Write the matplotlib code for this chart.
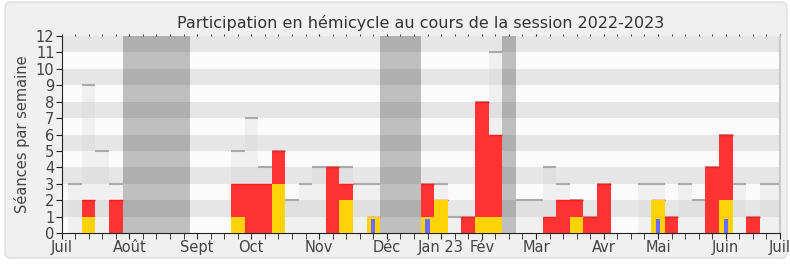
import numpy as np
import matplotlib.pyplot as plt
from matplotlib.patches import FancyBboxPatch

# weeks 0..52 (week 0 = week of 4 July 2022)
weeks = np.arange(53)
seances = [3, 9, 5, 3, 0, 0, 0, 0, 0, 0, 0, 0, 5, 7, 4, 5, 2, 3, 4, 4,
           4, 3, 3, 0, 0, 0, 3, 3, 1, 1, 8, 11, 0, 2, 2, 4, 3, 2, 1, 3,
           0, 0, 3, 3, 1, 3, 2, 4, 6, 3, 1, 3, 3]
presences = [0, 2, 0, 2, 0, 0, 0, 0, 0, 0, 0, 0, 3, 3, 3, 5, 0, 0, 0, 4,
             3, 0, 1, 0, 0, 0, 3, 2, 0, 1, 8, 6, 0, 0, 0, 1, 2, 2, 1, 3,
             0, 0, 0, 2, 1, 0, 0, 4, 6, 0, 1, 0, 0]
interventions = [0, 1, 0, 0, 0, 0, 0, 0, 0, 0, 0, 0, 1, 0, 0, 3, 0, 0, 0, 0,
                 2, 0, 1, 0, 0, 0, 1, 2, 0, 0, 1, 1, 0, 0, 0, 0, 0, 1, 0, 0,
                 0, 0, 0, 2, 0, 0, 0, 0, 2, 0, 0, 0, 0]
questions = [0] * 53
for w in (22, 26, 43, 48):
    questions[w] = 1
vacances = [(4, 8), (23, 25), (32, 32)]
mois_pos = [-1, 4, 9, 13, 18, 23, 27, 30, 34, 39, 43, 48, 52]
mois_lab = ['Juil', 'Août', 'Sept', 'Oct', 'Nov', 'Déc', 'Jan 23', 'Fév',
            'Mar', 'Avr', 'Mai', 'Juin', 'Juil']

fig = plt.figure(figsize=(7.9, 2.67), dpi=100, facecolor='white')
fig.patches.append(FancyBboxPatch((0.05, 0.09), 7.82, 2.56,
                                  boxstyle='round,pad=0,rounding_size=0.06',
                                  transform=fig.dpi_scale_trans,
                                  facecolor='#f0f0f0', edgecolor='#dcdcdc',
                                  lw=1, zorder=-10))
ax = fig.add_axes([61.5/790, 1-233/267, (780-61.5)/790, (233-36)/267])

# background stripes
for i in range(12):
    ax.axhspan(i, i+1, color='#e6e6e6' if i % 2 else '#fbfbfb', lw=0, zorder=0)

# total sessions per week
ax.bar(weeks, seances, width=1, color=(0.8, 0.8, 0.8, 0.22), lw=0, zorder=1)
for w, s in zip(weeks, seances):
    if s > 0:
        ax.hlines(s, w-0.5, w+0.5, color='#aaaaaa', lw=1.5, zorder=1.5)

# holidays
for a, b in vacances:
    ax.axvspan(a-0.5, b+0.5, color='black', alpha=0.24, lw=0, zorder=2)

ax.bar(weeks, presences, width=1, color='#ff3333', lw=0, zorder=3)
for w, p in zip(weeks, presences):
    if p > 0:
        ax.hlines(p, w-0.5, w+0.5, color='#ff1a1a', lw=1, zorder=3.5)
ax.bar(weeks, interventions, width=1, color='#ffd20a', lw=0, zorder=4)
ax.bar(weeks, np.array(questions)*0.85, width=0.3, color='#6b6bff', lw=0, zorder=5)

ax.set_xlim(-1, 52)
ax.set_ylim(0, 12)
ax.set_yticks(range(13))
ax.set_xticks(mois_pos)
ax.set_xticklabels(mois_lab)
ax.set_xticks(range(52), minor=True)
ax.tick_params(axis='both', which='both', direction='out', length=4,
               color='#222222', labelsize=10.5, labelcolor='#444444', pad=1)
ax.tick_params(axis='x', which='both', top=True, labeltop=False)
ax.spines['top'].set_visible(False)
ax.spines['right'].set_color('#c8c8c8')
ax.spines['right'].set_linewidth(1.5)
ax.spines['left'].set_color('#222222')
ax.spines['bottom'].set_color('#222222')
# short dots on the top edge
for t in ax.xaxis.get_major_ticks() + ax.xaxis.get_minor_ticks():
    t.tick2line.set_markersize(1.5)
ax.set_ylabel('Séances par semaine', fontsize=10.5, color='#444444', labelpad=4)
ax.set_title('Participation en hémicycle au cours de la session 2022-2023',
             fontsize=11.5, color='#333333', pad=6)

plt.savefig('out.png', dpi=100, facecolor=fig.get_facecolor())
